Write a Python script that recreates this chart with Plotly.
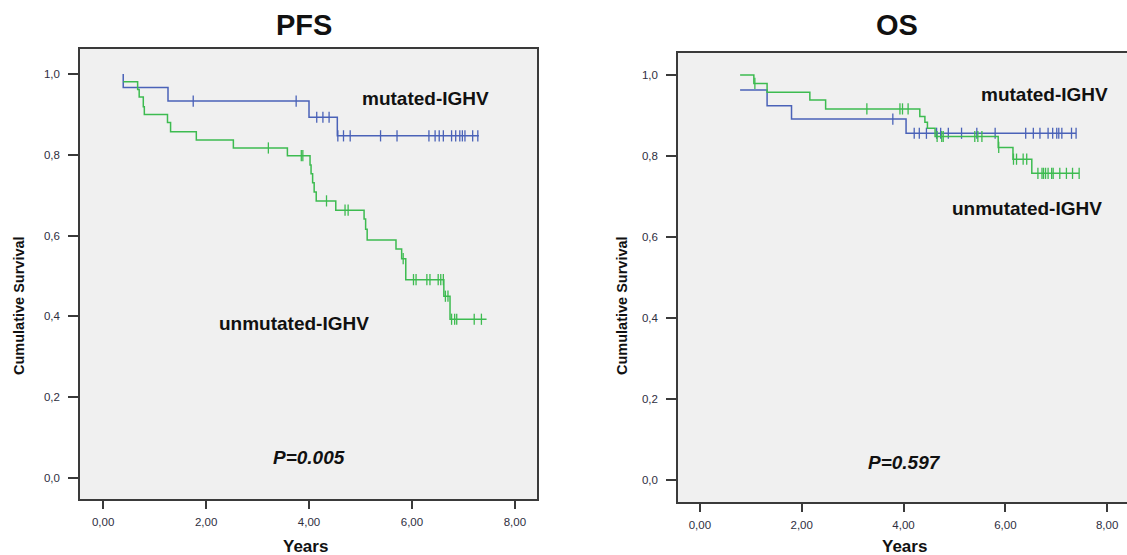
import plotly.graph_objects as go

W, H = 1127, 555

# ---------------- data ----------------
x_tickvals = [0, 2, 4, 6, 8]
x_ticktext = ["0,00", "2,00", "4,00", "6,00", "8,00"]
y_tickvals = [0.0, 0.2, 0.4, 0.6, 0.8, 1.0]
y_ticktext = ["0,0", "0,2", "0,4", "0,6", "0,8", "1,0"]

# PFS - mutated IGHV
pfs_mut_t = [0.39, 0.39, 1.26, 4.00, 4.55, 7.30]
pfs_mut_s = [1.000, 0.967, 0.933, 0.893, 0.847, 0.847]
pfs_mut_cens = [1.75, 3.75, 4.15, 4.27, 4.39, 4.56, 4.67, 4.80, 5.39, 5.71, 6.33, 6.45,
                6.53, 6.61, 6.77, 6.85, 6.93, 6.98, 7.03, 7.18, 7.28]
# PFS - unmutated IGHV
pfs_unm_t = [0.39, 0.67, 0.70, 0.78, 0.80, 1.25, 1.31, 1.81, 2.53, 3.58, 4.02, 4.04, 4.07,
             4.10, 4.14, 4.52, 5.07, 5.10, 5.13, 5.69, 5.80, 5.88, 6.62, 6.74, 7.45]
pfs_unm_s = [0.981, 0.962, 0.943, 0.919, 0.900, 0.880, 0.857, 0.837, 0.817, 0.798, 0.775,
             0.753, 0.731, 0.708, 0.686, 0.663, 0.641, 0.616, 0.589, 0.567, 0.543, 0.491,
             0.450, 0.393, 0.393]
pfs_unm_cens = [3.21, 3.85, 3.88, 4.34, 4.70, 4.76, 5.83, 6.03, 6.08, 6.29, 6.35, 6.51,
                6.56, 6.61, 6.65, 6.70, 6.77, 6.83, 6.87, 7.21, 7.35]

# OS - mutated IGHV
os_mut_t = [0.79, 1.32, 1.80, 4.05, 7.39]
os_mut_s = [0.963, 0.924, 0.891, 0.856, 0.856]
os_mut_cens = [3.79, 4.21, 4.31, 4.45, 4.65, 4.73, 4.88, 5.14, 5.44, 5.80, 6.40, 6.55,
               6.68, 6.84, 6.93, 7.01, 7.05, 7.11, 7.30, 7.39]
# OS - unmutated IGHV
os_unm_t = [0.79, 1.06, 1.32, 2.16, 2.47, 4.32, 4.42, 4.47, 4.62, 5.86, 6.15, 6.52, 7.45]
os_unm_s = [1.000, 0.979, 0.957, 0.938, 0.916, 0.897, 0.883, 0.868, 0.848, 0.821, 0.792,
            0.757, 0.757]
os_unm_cens = [1.08, 3.28, 3.93, 3.98, 4.09, 4.66, 4.75, 4.78, 5.40, 5.46, 5.54, 5.87,
               6.16, 6.22, 6.35, 6.42, 6.64, 6.72, 6.75, 6.79, 6.84, 6.91, 6.94, 7.07,
               7.20, 7.32, 7.45]

BLUE = "#4a62b8"
GREEN = "#3dbb50"
FONT = "Liberation Sans, Arial, sans-serif"


def surv_at(ts, ss, t):
    v = ss[0]
    for ti, si in zip(ts, ss):
        if ti <= t + 1e-9:
            v = si
        else:
            break
    return v


fig = go.Figure()


def add_curve(ts, ss, cens, color, xa, ya):
    fig.add_trace(go.Scatter(x=ts, y=ss, mode="lines", line=dict(color=color, width=1.5, shape="hv"),
                             xaxis=xa, yaxis=ya, hoverinfo="skip", showlegend=False))
    fig.add_trace(go.Scatter(x=cens, y=[surv_at(ts, ss, c) for c in cens], mode="markers",
                             marker=dict(symbol="line-ns", size=8, line=dict(color=color, width=1.3)),
                             xaxis=xa, yaxis=ya, hoverinfo="skip", showlegend=False))


add_curve(pfs_mut_t, pfs_mut_s, pfs_mut_cens, BLUE, "x", "y")
add_curve(pfs_unm_t, pfs_unm_s, pfs_unm_cens, GREEN, "x", "y")
add_curve(os_mut_t, os_mut_s, os_mut_cens, BLUE, "x2", "y2")
add_curve(os_unm_t, os_unm_s, os_unm_cens, GREEN, "x2", "y2")

AX = "#3a3a3a"
tickfont = dict(family=FONT, size=11.5, color="#2e2e3e")


def xaxis(domain, rng, anchor, mirror):
    return dict(domain=domain, range=rng, anchor=anchor, tickvals=x_tickvals, ticktext=x_ticktext,
                showgrid=False, zeroline=False, showline=True, linecolor=AX, linewidth=1.5,
                mirror=mirror, ticks="outside", ticklen=8, tickwidth=1.5, tickcolor=AX,
                tickfont=tickfont, ticklabelstandoff=3)


def yaxis(domain, rng, anchor, mirror):
    return dict(domain=domain, range=rng, anchor=anchor, tickvals=y_tickvals, ticktext=y_ticktext,
                showgrid=False, zeroline=False, showline=True, linecolor=AX, linewidth=1.5,
                mirror=mirror, ticks="outside", ticklen=10, tickwidth=1.5, tickcolor=AX,
                tickfont=tickfont, ticklabelstandoff=6)


def px(x):
    return x / W


def py(y):
    return 1 - y / H


fig.update_layout(
    width=W, height=H,
    margin=dict(l=0, r=0, t=0, b=0),
    paper_bgcolor="white",
    plot_bgcolor="#f0f0f0",
    showlegend=False,
    xaxis=xaxis([px(80), px(537)], [-0.45, 8.43], "y", True),
    yaxis=yaxis([py(499), py(49)], [-0.052, 1.062], "x", True),
    xaxis2=xaxis([px(678), 1.0], [-0.43, 8.39], "y2", True),
    yaxis2=yaxis([py(502), py(53)], [-0.054, 1.054], "x2", False),
)

annots = [
    ("PFS", 304, 25, 29),
    ("OS", 897, 25, 29),
    ("Years", 305, 546, 17),
    ("Years", 904, 546, 17),
    ("mutated-IGHV", 425, 99, 19),
    ("unmutated-IGHV", 294, 323, 19),
    ("<i>P=0.005</i>", 309, 457, 19),
    ("mutated-IGHV", 1044, 94, 19),
    ("unmutated-IGHV", 1027, 209, 19),
    ("<i>P=0.597</i>", 904, 462, 19),
]
for text, x, y, size in annots:
    fig.add_annotation(x=px(x), y=py(y), xref="paper", yref="paper", text=f"<b>{text}</b>",
                       showarrow=False, xanchor="center", yanchor="middle",
                       font=dict(family=FONT, size=size, color="#111111"))

for x in (19, 622):
    fig.add_annotation(x=px(x), y=py(306), xref="paper", yref="paper",
                       text="<b>Cumulative Survival</b>", textangle=-90, showarrow=False,
                       xanchor="center", yanchor="middle",
                       font=dict(family=FONT, size=14.5, color="#111111"))

fig.write_html("out.html", config={"displayModeBar": False},
               post_script="document.body.style.margin='0';document.body.style.overflow='hidden';")
